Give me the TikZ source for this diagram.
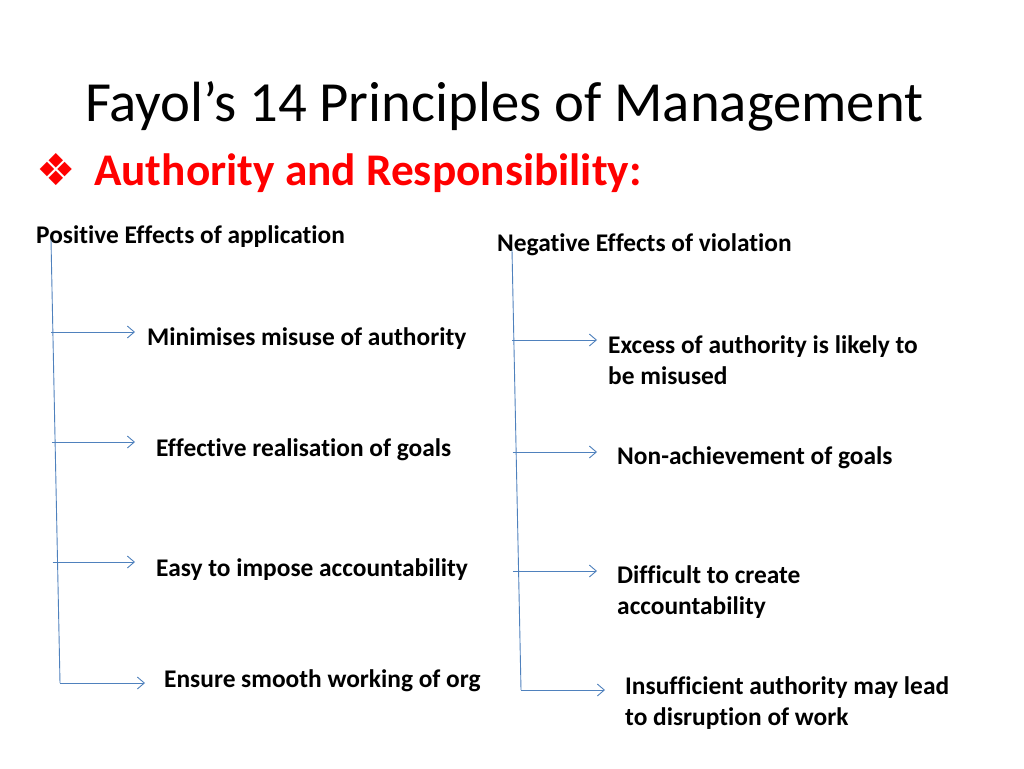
\documentclass[tikz,border=0pt]{standalone}
\usepackage{fontspec}
\setmainfont{Carlito}[Ligatures={NoCommon,NoRequired,NoContextual}]
\newfontfamily\symfont{DejaVu Sans}
\usetikzlibrary{arrows.meta}
\definecolor{linkblue}{HTML}{4F81BD}
\definecolor{headred}{HTML}{FF0000}
\tikzset{
  txt/.style={anchor=base west, inner sep=0pt, font=\fontsize{25.4}{31}\selectfont\bfseries, align=left},
  branch/.style={draw=linkblue, line width=0.9pt},
  arr/.style={branch, -{Straight Barb[length=7pt, width=12pt]}},
}
\begin{document}
\begin{tikzpicture}[x=1pt, y=-1pt]
\useasboundingbox (0,0) rectangle (1024,768);
\fill[white] (0,0) rectangle (1024,768);
% title
\node[anchor=base west, inner sep=0pt, font=\fontsize{56.7}{60}\selectfont] (title) at (85,121) {Fayol’s 14 Principles of Management};
\node[anchor=base west, inner sep=0pt, font=\fontsize{44}{48}\symfont, text=headred] (bullet) at (36,185) {❖};
\node[anchor=base west, inner sep=0pt, font=\fontsize{45.3}{50}\selectfont\bfseries, text=headred] (sub) at (94,185) {Authority and Responsibility:};
% headings
\node[txt] (pos) at (36,243) {Positive Effects of application};
\node[txt] (neg) at (497,251) {Negative Effects of violation};
% left items
\node[txt] (l1) at (147,345) {Minimises misuse of authority};
\node[txt] (l2) at (156,456) {Effective realisation of goals};
\node[txt] (l3) at (156,576) {Easy to impose accountability};
\node[txt] (l4) at (164,687) {Ensure smooth working of org};
% right items (base anchor = last line)
\node[txt] (r1) at (608,384) {Excess of authority is likely to\\be misused};
\node[txt] (r2) at (617,464) {Non-achievement of goals};
\node[txt] (r3) at (617,614) {Difficult to create\\accountability};
\node[txt] (r4) at (625,725) {Insufficient authority may lead\\to disruption of work};
% left tree
\coordinate (ltop) at (51,240);
\coordinate (lbot) at (60,683);
\coordinate (la1) at (51.3,332);
\coordinate (la2) at (51.9,442);
\coordinate (la3) at (52.5,562);
\coordinate (le1) at (135,332);
\coordinate (le2) at (135,442);
\coordinate (le3) at (135,562);
\coordinate (le4) at (145,683);
\draw[branch] (ltop) -- (lbot);
\draw[arr] (la1) -- (le1);
\draw[arr] (la2) -- (le2);
\draw[arr] (la3) -- (le3);
\draw[arr] (lbot) -- (le4);
% right tree
\coordinate (rtop) at (512,250);
\coordinate (rbot) at (521,690);
\coordinate (ra1) at (512.3,340);
\coordinate (ra2) at (512.5,452);
\coordinate (ra3) at (512.8,571);
\coordinate (re1) at (597,340);
\coordinate (re2) at (597,452);
\coordinate (re3) at (597,571);
\coordinate (re4) at (605,690);
\draw[branch] (rtop) -- (rbot);
\draw[arr] (ra1) -- (re1);
\draw[arr] (ra2) -- (re2);
\draw[arr] (ra3) -- (re3);
\draw[arr] (rbot) -- (re4);
\end{tikzpicture}
\end{document}
